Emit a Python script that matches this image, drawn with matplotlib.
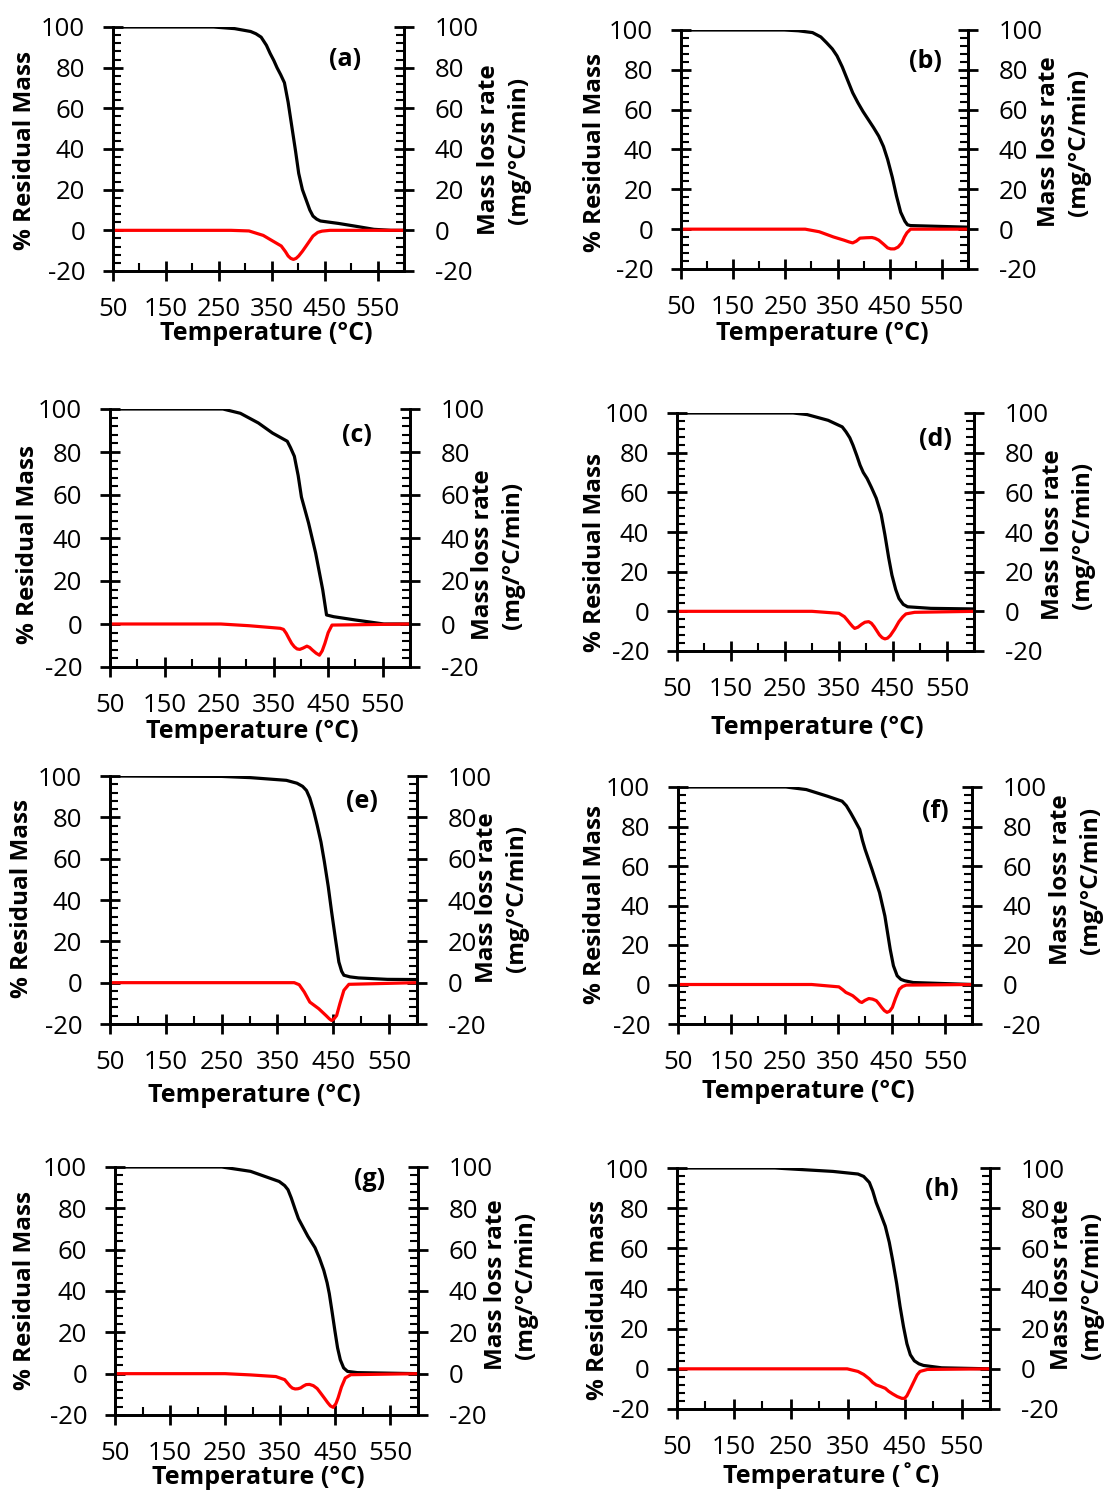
import matplotlib
matplotlib.use("Agg")
import matplotlib.pyplot as plt
from matplotlib.ticker import MultipleLocator, FixedLocator

plt.rcParams['font.family'] = ['Open Sans', 'DejaVu Sans']
plt.rcParams['axes.unicode_minus'] = False

W, H = 1112, 1492

# ---- data (temperature in C, residual mass %, DTG mg/C/min)
tg_t_a = [50, 240, 280, 310, 320, 330, 340, 347, 354, 360, 367, 374, 381, 388, 395, 401, 408, 415, 422, 428, 435, 442, 476, 509, 543, 575, 600]
tg_a = [100, 100, 99.2, 97.8, 96.7, 95, 91, 87, 83.5, 80, 76.5, 72.6, 63, 51, 39, 28, 20, 15, 10, 7, 5.5, 4.6, 3.4, 2, 0.5, 0, 0]
dtg_t_a = [50, 273, 307, 334, 347, 368, 376, 381, 386, 391, 396, 401, 408, 415, 428, 437, 445, 460, 600]
dtg_a = [0, 0, -0.3, -2.5, -4.5, -7.7, -10.5, -12.6, -13.8, -14.3, -13.8, -12.6, -10.3, -7.7, -2.8, -1, -0.4, 0, 0]

tg_t_b = [50, 248, 275, 302, 318, 329, 340, 349, 359, 369, 379, 389, 399, 409, 419, 429, 438, 446, 455, 463, 471, 479, 484, 490, 600]
tg_b = [100, 100, 99.6, 98.7, 96.5, 93.6, 90.5, 87, 81.5, 75, 68.5, 63.5, 59, 55, 51, 46.7, 41.5, 35, 26, 16.6, 8.5, 4, 2.2, 1.8, 1]
dtg_t_b = [50, 288, 315, 342, 362, 372, 379, 386, 393, 405, 416, 422, 429, 438, 446, 452, 459, 466, 473, 478, 483, 490, 600]
dtg_b = [0, 0, -1.3, -3.9, -5.5, -6.4, -6.9, -6, -4.5, -4.3, -4.2, -4.6, -5.5, -7.5, -9.4, -9.9, -9.9, -9, -6.9, -4, -1.8, 0, 0]

tg_t_c = [50, 257, 289, 322, 348, 375, 381, 388, 395, 401, 414, 427, 440, 447, 460, 499, 552, 600]
tg_c = [100, 100, 98, 93.5, 88.8, 85, 82, 78, 69, 59, 47, 33, 15.9, 4.2, 3.4, 1.9, 0, 0]
dtg_t_c = [50, 253, 305, 362, 368, 373, 378, 383, 388, 393, 398, 404, 411, 416, 421, 428, 434, 439, 444, 450, 457, 600]
dtg_c = [0, 0, -0.8, -2, -2.5, -4.3, -6.7, -9, -10.6, -11.6, -11.8, -11.2, -10.3, -10.9, -12.1, -13.6, -14.5, -12.5, -9, -4, -0.5, 0]

tg_t_d = [50, 265, 291, 330, 356, 363, 370, 376, 383, 389, 395, 402, 410, 419, 428, 435, 442, 448, 455, 461, 469, 477, 520, 600]
tg_d = [100, 100, 99.2, 96.3, 93, 90.5, 87.5, 83.7, 78.5, 73.7, 70, 67, 62.5, 57, 49, 38.6, 27, 18.3, 11, 6.5, 3.5, 2.3, 1.5, 1.2]
dtg_t_d = [50, 300, 350, 360, 365, 370, 375, 379, 385, 392, 398, 405, 410, 415, 420, 425, 430, 435, 440, 445, 453, 461, 468, 474, 490, 600]
dtg_d = [0, 0, -1, -2.7, -4.3, -6, -7.6, -8.6, -8, -6.5, -5.5, -5.2, -6, -7.7, -9.8, -11.9, -13.3, -13.9, -13.5, -12.2, -9, -5.2, -2.8, -1.3, -0.5, 0]

tg_t_e = [50, 250, 302, 366, 385, 395, 402, 408, 415, 421, 428, 434, 441, 447, 454, 460, 465, 469, 480, 495, 547, 600]
tg_e = [100, 99.8, 99.2, 97.9, 96.5, 95, 93, 89.3, 83, 76.4, 68, 58.6, 46.5, 34.3, 21, 10, 5.5, 3.6, 2.8, 2.3, 1.6, 1.5]
dtg_t_e = [50, 380, 389, 398, 408, 424, 437, 443, 447, 451, 456, 462, 469, 478, 600]
dtg_e = [0, 0, -1, -4.5, -9.4, -12.6, -15.9, -17.5, -18.3, -17.6, -15.9, -10, -3.7, -0.8, 0]

tg_t_f = [50, 252, 290, 330, 357, 365, 373, 379, 385, 390, 395, 400, 413, 427, 437, 447, 453, 460, 467, 474, 490, 600]
tg_f = [100, 100, 98.7, 95.3, 92.8, 90.5, 86.9, 84, 81, 78.5, 73, 68.4, 58.2, 46.5, 34.7, 17.8, 9.5, 4.4, 2.6, 1.9, 1, 0]
dtg_t_f = [50, 300, 351, 358, 364, 372, 377, 385, 390, 394, 400, 407, 414, 421, 426, 431, 436, 441, 446, 451, 457, 464, 470, 477, 600]
dtg_f = [0, 0, -1.2, -2.6, -4, -5, -5.7, -7.5, -8.7, -9.1, -8, -7.1, -7.4, -8.2, -9.8, -11.6, -13.2, -14.1, -13.5, -11.6, -7, -2.4, -1, -0.3, 0]

tg_t_g = [50, 244, 296, 348, 358, 364, 370, 377, 383, 390, 400, 413, 421, 429, 435, 439, 444, 449, 454, 459, 465, 472, 490, 600]
tg_g = [100, 100, 97.9, 93, 91, 89, 85, 79.5, 75, 71.5, 66.5, 61, 56, 50, 44, 38.7, 30, 21, 12.5, 6.7, 2.8, 1.1, 0.5, 0]
dtg_t_g = [50, 250, 296, 342, 358, 363, 368, 372, 377, 382, 387, 392, 397, 403, 410, 417, 423, 430, 436, 441, 446, 451, 455, 461, 468, 478, 600]
dtg_g = [0, 0, -0.6, -1.4, -2.9, -4.5, -6.1, -7, -7.4, -7.3, -6.9, -6, -5.3, -5.2, -5.8, -7.2, -9.3, -11.8, -14, -15.6, -16.3, -14.5, -11.7, -6.5, -2.1, -0.5, 0]

tg_t_h = [50, 222, 324, 368, 378, 388, 394, 400, 408, 416, 423, 429, 436, 442, 448, 454, 460, 467, 475, 483, 515, 600]
tg_h = [100, 100, 98.3, 97, 95.8, 92.8, 88.5, 82.8, 77, 71, 63, 54, 42.5, 31, 21, 12.5, 7, 4, 2.5, 1.7, 0.5, 0]
dtg_t_h = [50, 349, 368, 378, 388, 394, 400, 408, 416, 422, 429, 437, 445, 450, 454, 460, 467, 472, 477, 490, 600]
dtg_h = [0, 0, -1.3, -2.8, -5, -6.8, -8, -8.8, -9.7, -11.2, -12.5, -13.8, -14.7, -14.7, -13.4, -10, -5.9, -3, -1.3, -0.3, 0]

x_ticks = [50, 150, 250, 350, 450, 550]

panels = [
    # label, tg_t, tg, dtg_t, dtg, box(L,R,T,B px), ylabel, xlabel
    ('(a)', tg_t_a, tg_a, dtg_t_a, dtg_a, (113, 404, 27, 271), '% Residual Mass', 'Temperature (°C)'),
    ('(b)', tg_t_b, tg_b, dtg_t_b, dtg_b, (681, 968, 30, 269), '% Residual Mass', 'Temperature (°C)'),
    ('(c)', tg_t_c, tg_c, dtg_t_c, dtg_c, (110, 410, 409, 667), '% Residual Mass', 'Temperature (°C)'),
    ('(d)', tg_t_d, tg_d, dtg_t_d, dtg_d, (677, 974, 413, 651), '% Residual Mass', 'Temperature (°C)'),
    ('(e)', tg_t_e, tg_e, dtg_t_e, dtg_e, (110, 417, 776, 1024), '% Residual Mass', 'Temperature (°C)'),
    ('(f)', tg_t_f, tg_f, dtg_t_f, dtg_f, (678, 972, 787, 1024), '% Residual Mass', 'Temperature (°C)'),
    ('(g)', tg_t_g, tg_g, dtg_t_g, dtg_g, (115, 418, 1167, 1415), '% Residual Mass', 'Temperature (°C)'),
    ('(h)', tg_t_h, tg_h, dtg_t_h, dtg_h, (677, 990, 1168, 1409), '% Residual mass', 'Temperature (˚C)'),
]

# label placements in figure pixels: panel tag, left label x/y, right label x/y, x-label x/y
extras = [
    ((345, 60), (25, 150), (504, 150), (266, 333)),
    ((925, 62), (595, 152), (1064, 142), (822, 333)),
    ((357, 435), (28, 545), (498, 555), (252, 731)),
    ((935, 440), (595, 553), (1068, 535), (817, 727)),
    ((362, 802), (22, 898), (502, 898), (254, 1095)),
    ((935, 812), (595, 905), (1076, 880), (808, 1091)),
    ((370, 1180), (25, 1290), (511, 1285), (258, 1478)),
    ((942, 1190), (598, 1300), (1077, 1285), (831, 1476)),
]

fig = plt.figure(figsize=(W / 100, H / 100), dpi=100)

for (tag, tt, tg, dt, dtg, box, ylab, xlab), (tagpos, ylpos, y2pos, xlpos) in zip(panels, extras):
    L, R, T, B = box
    ax = fig.add_axes([L / W, 1 - B / H, (R - L) / W, (B - T) / H])
    ax2 = ax.twinx()

    ax.plot(tt, tg, color='black', lw=2.3, solid_joinstyle='round')
    ax2.plot(dt, dtg, color='red', lw=2.3, solid_joinstyle='round')

    for a in (ax, ax2):
        a.set_xlim(50, 600)
        a.set_ylim(-20, 100)
        a.spines['top'].set_visible(False)
        for s in ('left', 'right', 'bottom'):
            a.spines[s].set_linewidth(2)
        a.yaxis.set_major_locator(MultipleLocator(20))
        a.yaxis.set_minor_locator(MultipleLocator(4))
        a.tick_params(which='major', direction='inout', length=14, width=2, labelsize=18.5)
        a.tick_params(which='minor', direction='in', length=6, width=1.5)

    ax.xaxis.set_major_locator(FixedLocator(x_ticks))
    ax.xaxis.set_minor_locator(FixedLocator([100, 200, 300, 400, 500, 600]))
    ax.tick_params(axis='x', which='major', pad=12)
    ax.tick_params(axis='y', which='major', pad=13)
    ax2.tick_params(axis='y', which='major', pad=15)

    ax.set_ylabel(ylab, fontsize=17.5, fontweight='bold')
    ax.yaxis.set_label_coords((ylpos[0] - L) / (R - L), (B - ylpos[1]) / (B - T))
    ax.yaxis.label.set_va('center')
    ax.set_xlabel(xlab, fontsize=18, fontweight='bold')
    ax.xaxis.set_label_coords((xlpos[0] - L) / (R - L), (B - xlpos[1]) / (B - T))
    ax.xaxis.label.set_va('center')

    ax2.set_ylabel('Mass loss rate\n(mg/°C/min)', fontsize=17.5, fontweight='bold',
                   rotation=90, linespacing=1.3)
    ax2.yaxis.set_label_coords((y2pos[0] - L) / (R - L), (B - y2pos[1]) / (B - T))
    ax2.yaxis.label.set_va('center')
    ax2.yaxis.label.set_ha('center')

    ax.text((tagpos[0] - L) / (R - L), (B - tagpos[1]) / (B - T), tag, transform=ax.transAxes,
            fontsize=18, fontweight='bold', ha='center', va='center')

fig.savefig('out.png', dpi=100)
